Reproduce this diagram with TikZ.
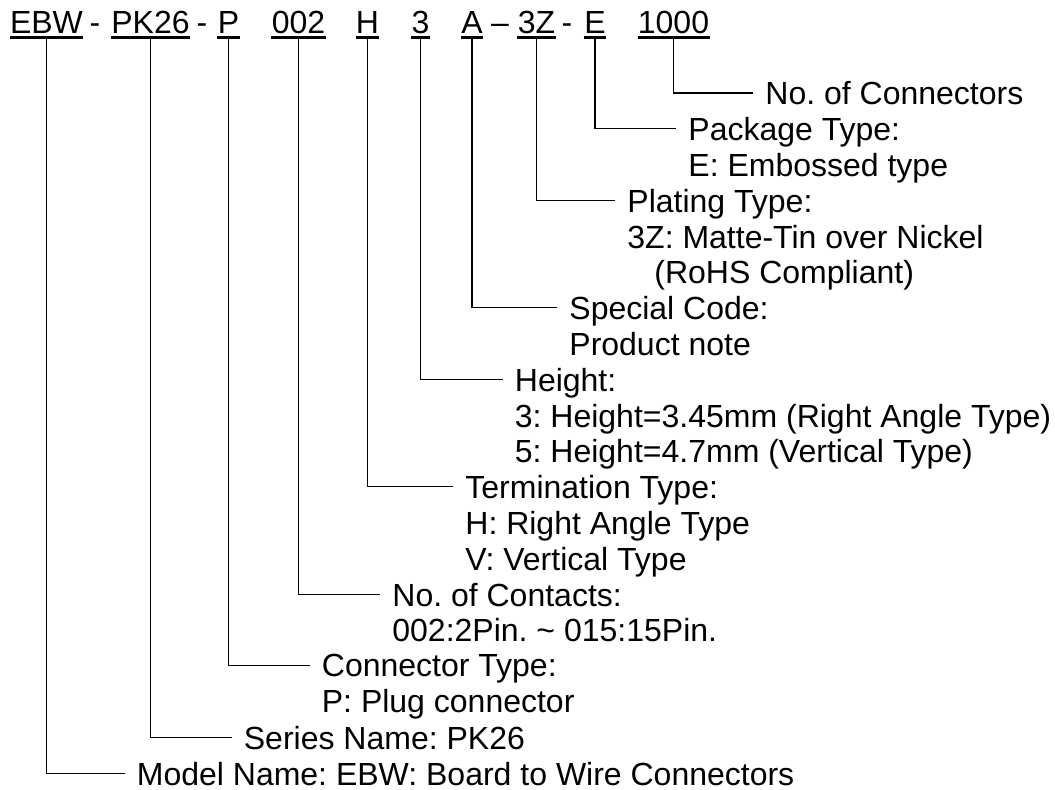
\documentclass[tikz,border=0pt]{standalone}
\usepackage{fontspec}
\setmainfont{Liberation Sans}
\frenchspacing
\usetikzlibrary{positioning}
\newcommand{\partfont}{\fontsize{16}{17.9}\selectfont}

\begin{document}
\begin{tikzpicture}[x=0.5pt,y=-0.5pt,every node/.style={font=\partfont,inner sep=0pt},code/.style={anchor=base,text depth=2pt},desc/.style={anchor=north west,align=left},lead/.style={line width=0.65pt},uline/.style={line width=1.3pt}]
\useasboundingbox (0,0) rectangle (1055,790);
% part number
\node[code] (ebw) at (46.5,33.3) {EBW};\node[code] (s1) at (95,33.3) {-};\node[code] (pk) at (150.5,33.3) {PK26};\node[code] (s2) at (202,33.3) {-};\node[code] (p) at (228.5,33.3) {P};
\node[code] (pins) at (298.5,33.3) {002};\node[code] (h) at (367.5,33.3) {H};\node[code] (ht) at (420.5,33.3) {3};\node[code] (a) at (472,33.3) {A};\node[code] (s3) at (500,33.3) {--};
\node[code] (tz) at (536.5,33.3) {3Z};\node[code] (s4) at (567,33.3) {-};\node[code] (e) at (595,33.3) {E};\node[code] (qty) at (673.5,33.3) {1000};
\foreach \a in {ebw,pk,p,pins,h,ht,a,tz,e,qty}{\draw[uline] (\a.south west)--(\a.south east);}
% descriptions
\node[desc] (qtyd) at (765,81.4) {No. of Connectors};
\node[desc] (ed) at (688,117.2) {Package Type:\\E: Embossed type};
\node[desc] (tzd) at (627,188.8) {Plating Type:\\3Z: Matte-Tin over Nickel\\\hspace*{13.5pt}(RoHS Compliant)};
\node[desc] (ad) at (569,296.2) {Special Code:\\Product note};
\node[desc] (htd) at (514.5,367.8) {Height:\\3: Height=3.45mm (Right Angle Type)\\5: Height=4.7mm (Vertical Type)};
\node[desc] (hd) at (465,475.2) {Termination Type:\\H: Right Angle Type\\V: Vertical Type};
\node[desc] (pinsd) at (392,582.6) {No. of Contacts:\\002:2Pin. \textasciitilde{} 015:15Pin.};
\node[desc] (pd) at (321.5,654.2) {Connector Type:\\P: Plug connector};
\node[desc] (pkd) at (243.5,725.8) {Series Name: PK26};
\node[desc] (ebwd) at (136.5,761.6) {Model Name: EBW: Board to Wire Connectors};
\foreach \a/\b in {qty/qtyd,e/ed,tz/tzd,a/ad,ht/htd,h/hd,pins/pinsd,p/pd,pk/pkd,ebw/ebwd}{\draw[lead] (\a.south) |- ([xshift=-6pt,yshift=-5.8pt]\b.north west);}
\end{tikzpicture}
\end{document}
